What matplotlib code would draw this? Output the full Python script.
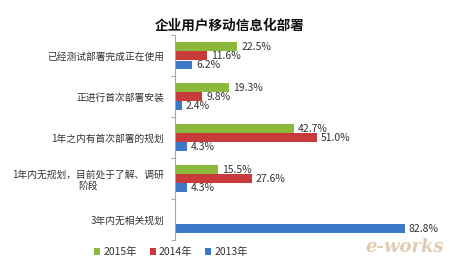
import matplotlib
matplotlib.use("Agg")
import matplotlib.pyplot as plt
import numpy as np

plt.rcParams['font.family'] = ['Noto Sans CJK SC', 'DejaVu Sans']

categories = ["已经测试部署完成正在使用", "正进行首次部署安装", "1年之内有首次部署的规划",
              "1年内无规划，目前处于了解、调研\n阶段", "3年内无相关规划"]
series_names = ["2015年", "2014年", "2013年"]
v2015 = [22.5, 19.3, 42.7, 15.5, np.nan]
v2014 = [11.6, 9.8, 51.0, 27.6, np.nan]
v2013 = [6.2, 2.4, 4.3, 4.3, 82.8]
colors = ["#8cb83c", "#c93a3a", "#3b78c6"]

fig = plt.figure(figsize=(4.5, 2.7), dpi=100)
ax = fig.add_axes([0.389, 0.111, 0.555, 0.759])

y = np.arange(len(categories))
h = 0.2
offs = [-0.22, 0.0, 0.22]
handles = []
for vals, off, c, name in zip([v2015, v2014, v2013], offs, colors, series_names):
    vals = np.array(vals, dtype=float)
    b = ax.barh(y + off, vals, height=h, color=c, label=name)
    handles.append(b)
    for yi, v in zip(y + off, vals):
        if not np.isnan(v):
            ax.text(v + 1.5, yi, f"{v:.1f}%", va='center', ha='left', fontsize=7.5, color='#333333')

ax.set_xlim(0, 90)
ax.set_ylim(4.5, -0.5)
ax.set_yticks(y)
ax.set_yticklabels(categories, fontsize=7, color='#333333', multialignment='center')
ax.tick_params(axis='y', which='major', length=0, pad=8)
ax.set_yticks(np.arange(-0.5, 4.6, 1.0), minor=True)
ax.tick_params(axis='y', which='minor', length=3, color='#aaaaaa', width=0.8)
ax.set_xticks([])
for s in ['top', 'right', 'bottom']:
    ax.spines[s].set_visible(False)
ax.spines['left'].set_color('#aaaaaa')
ax.spines['left'].set_linewidth(0.8)

fig.text(0.51, 0.905, "企业用户移动信息化部署", ha='center', va='center', fontsize=9.8, fontweight='bold', color='#111111')

fig.legend(handles=handles, labels=series_names, loc='center', bbox_to_anchor=(0.38, 0.067), ncol=3,
           frameon=False, fontsize=7.5, handlelength=0.6, handleheight=0.6, handletextpad=0.3,
           columnspacing=1.2)
for t in fig.legends[0].get_texts():
    t.set_color('#333333')

fig.text(0.90, 0.085, "e-works", ha='center', va='center', fontsize=13, fontstyle='italic',
         fontweight='bold', family='DejaVu Serif', color='#c8a070', alpha=0.55)

fig.savefig("out.png", dpi=100)
